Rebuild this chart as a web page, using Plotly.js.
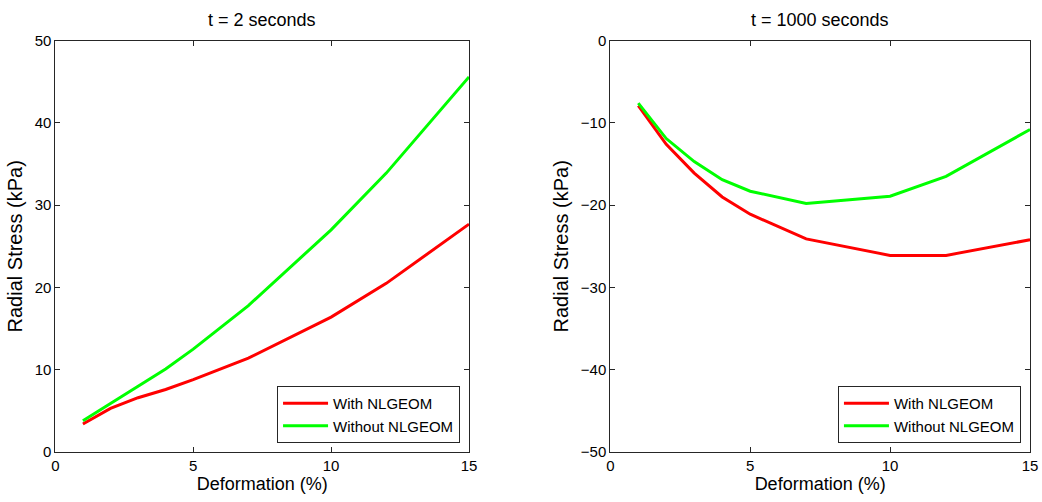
<!DOCTYPE html>
<html>
<head>
<meta charset="utf-8">
<script src="https://cdn.plot.ly/plotly-3.0.1.min.js"></script>
<style>html,body{margin:0;padding:0;background:#fff;}#chart{width:1042px;height:502px;}</style>
</head>
<body>
<div id="chart"></div>
<script>
// Data
const deformation = [1, 2, 3, 4, 5, 7, 10, 12, 15];
const t2_with = [3.4, 5.3, 6.6, 7.6, 8.8, 11.4, 16.4, 20.5, 27.7];
const t2_without = [3.8, 5.9, 8.0, 10.1, 12.5, 17.8, 27.0, 33.9, 45.6];
const t1000_with = [-7.9, -12.6, -16.1, -19.0, -21.1, -24.1, -26.1, -26.1, -24.2];
const t1000_without = [-7.6, -11.9, -14.7, -16.9, -18.3, -19.8, -18.9, -16.5, -10.8];
const seriesNames = ["With NLGEOM", "Without NLGEOM"];
const panelTitles = ["t = 2 seconds", "t = 1000 seconds"];
const xTitle = "Deformation (%)";
const yTitle = "Radial Stress (kPa)";

const RED = "#ff0000", GREEN = "#00ff00";
const font = "Liberation Sans, Arial, sans-serif";

const traces = [
  {x: deformation, y: t2_with, name: seriesNames[0], mode: "lines", line: {color: RED, width: 3}, xaxis: "x", yaxis: "y", legend: "legend"},
  {x: deformation, y: t2_without, name: seriesNames[1], mode: "lines", line: {color: GREEN, width: 3}, xaxis: "x", yaxis: "y", legend: "legend"},
  {x: deformation, y: t1000_with, name: seriesNames[0], mode: "lines", line: {color: RED, width: 3}, xaxis: "x2", yaxis: "y2", legend: "legend2"},
  {x: deformation, y: t1000_without, name: seriesNames[1], mode: "lines", line: {color: GREEN, width: 3}, xaxis: "x2", yaxis: "y2", legend: "legend2"}
];

function axisBase() {
  return {
    showgrid: false, zeroline: false, showline: true, mirror: "ticks",
    linecolor: "#262626", linewidth: 1, ticks: "inside", ticklen: 5,
    tickcolor: "#262626", tickfont: {family: font, size: 15, color: "#000"},
    automargin: false
  };
}
const ydomain = [0.0996, 0.919];
const legendBase = {yanchor: "bottom", xanchor: "right", bordercolor: "#262626", borderwidth: 1,
  bgcolor: "#fff", font: {family: font, size: 15, color: "#000"}, tracegroupgap: 0, itemwidth: 45};
const layout = {
  width: 1042, height: 502,
  margin: {l: 0, r: 0, t: 0, b: 0},
  paper_bgcolor: "#fff", plot_bgcolor: "#fff",
  font: {family: font, color: "#000"},
  xaxis: Object.assign(axisBase(), {domain: [0.0531, 0.4501], range: [0, 15], tickvals: [0, 5, 10, 15],
    title: {text: xTitle, font: {size: 18, family: font}, standoff: 4}, anchor: "y"}),
  yaxis: Object.assign(axisBase(), {domain: ydomain, range: [0, 50], tickvals: [0, 10, 20, 30, 40, 50],
    title: {text: yTitle, font: {size: 20, family: font}, standoff: 6}, anchor: "x"}),
  xaxis2: Object.assign(axisBase(), {domain: [0.5857, 0.9885], range: [0, 15], tickvals: [0, 5, 10, 15],
    title: {text: xTitle, font: {size: 18, family: font}, standoff: 4}, anchor: "y2"}),
  yaxis2: Object.assign(axisBase(), {domain: ydomain, range: [-50, 0], tickvals: [-50, -40, -30, -20, -10, 0],
    title: {text: yTitle, font: {size: 20, family: font}, standoff: 6}, anchor: "x2"}),
  legend: Object.assign({}, legendBase, {x: 0.4415, y: 0.1175}),
  legend2: Object.assign({}, legendBase, {x: 0.9798, y: 0.1175}),
  annotations: [
    {text: panelTitles[0], xref: "paper", yref: "paper", x: (0.0531 + 0.4501) / 2, y: 0.96, xanchor: "center", yanchor: "middle", showarrow: false, font: {family: font, size: 18, color: "#000"}},
    {text: panelTitles[1], xref: "paper", yref: "paper", x: (0.5857 + 0.9885) / 2, y: 0.96, xanchor: "center", yanchor: "middle", showarrow: false, font: {family: font, size: 18, color: "#000"}}
  ]
};
Plotly.newPlot("chart", traces, layout, {staticPlot: true, displayModeBar: false});
</script>
</body>
</html>
